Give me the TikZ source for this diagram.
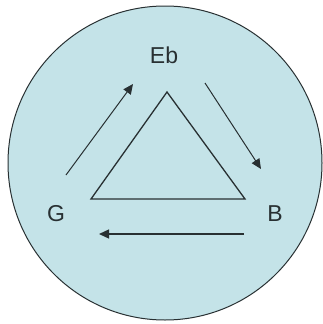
\documentclass[tikz,border=0pt]{standalone}
\usepackage{fontspec}
\setmainfont{Liberation Sans}
\usetikzlibrary{arrows.meta}
\definecolor{paleblue}{RGB}{196,227,232}
\definecolor{edgegray}{RGB}{40,48,50}
\begin{document}
\begin{tikzpicture}[x=1pt,y=-1pt]
\useasboundingbox (0,0) rectangle (323,324);
\filldraw[fill=paleblue,draw=edgegray,line width=1pt] (165,163) circle (157);
\draw[edgegray,line width=1.3pt] (167,92) -- (245,199) -- (91,199) -- cycle;
\node[font=\fontsize{23}{26}\selectfont,text=edgegray] (eb) at (164,55) {Eb};
\node[font=\fontsize{23}{26}\selectfont,text=edgegray] (g) at (56,214) {G};
\node[font=\fontsize{23}{26}\selectfont,text=edgegray] (b) at (275,214) {B};
\coordinate (gs) at (66,175);
\coordinate (ge) at (133,84);
\coordinate (es) at (205,83);
\coordinate (ee) at (261,169);
\coordinate (bs) at (244,234);
\coordinate (be) at (99,234);
\draw[edgegray,line width=1pt,-{Triangle[length=10pt,width=9pt]}] (gs) -- (ge);
\draw[edgegray,line width=1pt,-{Triangle[length=10pt,width=9pt]}] (es) -- (ee);
\draw[edgegray,line width=1.3pt,-{Triangle[length=10pt,width=9pt]}] (bs) -- (be);
\end{tikzpicture}
\end{document}
